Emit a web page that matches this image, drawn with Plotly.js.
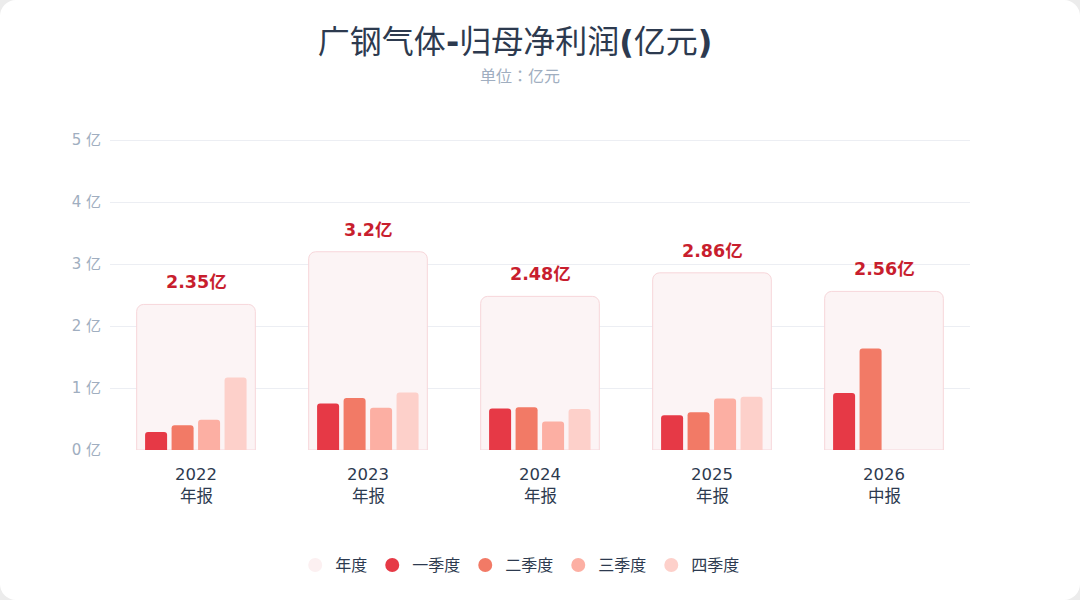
<!DOCTYPE html>
<html>
<head>
<meta charset="utf-8">
<script src="https://cdn.plot.ly/plotly-3.0.1.min.js"></script>
<style>
  html, body { margin: 0; padding: 0; background: #ececec; }
  #card { width: 1080px; height: 600px; background: #ffffff; border-radius: 16px; overflow: hidden; }
</style>
</head>
<body>
<div id="card"><div id="chart" style="width:1080px;height:600px;"></div></div>
<script>
const CHART = document.getElementById('chart');

const FONT = 'DejaVu Sans, Noto Sans CJK JP, sans-serif';

const years = ['2022', '2023', '2024', '2025', '2026'];
const periods = ['年报', '年报', '年报', '年报', '中报'];
const annual = [2.35, 3.2, 2.48, 2.86, 2.56];
const q1 = [0.29, 0.75, 0.67, 0.56, 0.92];
const q2 = [0.40, 0.84, 0.69, 0.61, 1.64];
const q3 = [0.49, 0.68, 0.46, 0.83, null];
const q4 = [1.17, 0.93, 0.66, 0.86, null];
const yTicks = [0, 1, 2, 3, 4, 5];

const quarterNames = ['一季度', '二季度', '三季度', '四季度'];
const quarterColors = ['#e63946', '#f27a66', '#fcafa3', '#fdd0ca'];
const annualFill = '#fcf4f5';
const annualLine = '#f7d6da';

const xs = years.map((y, i) => i);

const traces = [];

// annual box behind the quarters
traces.push({
    type: 'bar',
    x: xs,
    y: annual,
    width: 0.69,
    marker: {
        color: annualFill,
        line: { color: annualLine, width: 1 },
        cornerradius: 7
    },
    hoverinfo: 'y',
    showlegend: false
});

const quarters = [q1, q2, q3, q4];
quarters.forEach((vals, qi) => {
    traces.push({
        type: 'bar',
        x: xs,
        y: vals,
        width: 0.128,
        offset: -0.296 + qi * 0.154,
        marker: { color: quarterColors[qi], cornerradius: 3 },
        hoverinfo: 'y',
        showlegend: false
    });
});

// legend entries drawn as circles
const legendNames = ['年度'].concat(quarterNames);
const legendColors = ['#fcf0f1'].concat(quarterColors);
legendNames.forEach((name, i) => {
    traces.push({
        type: 'scatter',
        mode: 'markers',
        x: [null],
        y: [null],
        name: name,
        marker: { color: legendColors[i], size: 14, symbol: 'circle' },
        showlegend: true,
        hoverinfo: 'skip'
    });
});

const annotations = annual.map((v, i) => ({
    x: i,
    y: v,
    yshift: 22,
    text: '<b>' + v + '亿</b>',
    showarrow: false,
    font: { family: FONT, size: 17.5, color: '#c81e2e' }
}));

// second line of the category labels
periods.forEach((p, i) => {
    annotations.push({
        x: i,
        xref: 'x',
        yref: 'paper',
        y: 0,
        yshift: -46,
        yanchor: 'middle',
        borderpad: 0,
        text: p,
        showarrow: false,
        font: { family: FONT, size: 16.5, color: '#2d3a4f' }
    });
});

annotations.push({
    xref: 'paper', yref: 'paper',
    x: 0.477, y: 1,
    yshift: 63,
    yanchor: 'middle',
    text: '单位：亿元',
    showarrow: false,
    font: { family: FONT, size: 16, color: '#a0aec0' }
});

const layout = {
    width: 1080,
    height: 600,
    paper_bgcolor: 'rgba(0,0,0,0)',
    plot_bgcolor: 'rgba(0,0,0,0)',
    margin: { l: 110, r: 110, t: 139, b: 150 },
    barmode: 'overlay',
    title: {
        text: '广钢气体<b>-</b>归母净利润<b>(</b>亿元<b>)</b>',
        x: 0.477,
        xanchor: 'center',
        y: 0.93,
        yanchor: 'middle',
        font: { family: FONT, size: 32, color: '#2d3a4f' }
    },
    xaxis: {
        range: [-0.5, 4.5],
        tickmode: 'array',
        tickvals: xs,
        ticktext: years,
        showgrid: false,
        zeroline: false,
        showline: false,
        ticks: '',
        ticklabelstandoff: 12,
        tickfont: { family: FONT, size: 16.5, color: '#2d3a4f' },
        fixedrange: true
    },
    yaxis: {
        range: [0, 5.02],
        tickmode: 'array',
        tickvals: yTicks,
        ticktext: yTicks.map(v => v + ' 亿'),
        gridcolor: '#eceef3',
        gridwidth: 1,
        zeroline: false,
        showline: false,
        ticks: '',
        ticklabelstandoff: 8,
        tickfont: { family: FONT, size: 15, color: '#a0aec0' },
        fixedrange: true
    },
    legend: {
        orientation: 'h',
        x: 0.477,
        xanchor: 'center',
        y: -0.37,
        yanchor: 'middle',
        font: { family: FONT, size: 16, color: '#2d3a4f' },
        itemwidth: 30,
        tracegroupgap: 0
    },
    annotations: annotations,
    showlegend: true
};

Plotly.newPlot(CHART, traces, layout, { displayModeBar: false, responsive: false });
</script>
</body>
</html>
